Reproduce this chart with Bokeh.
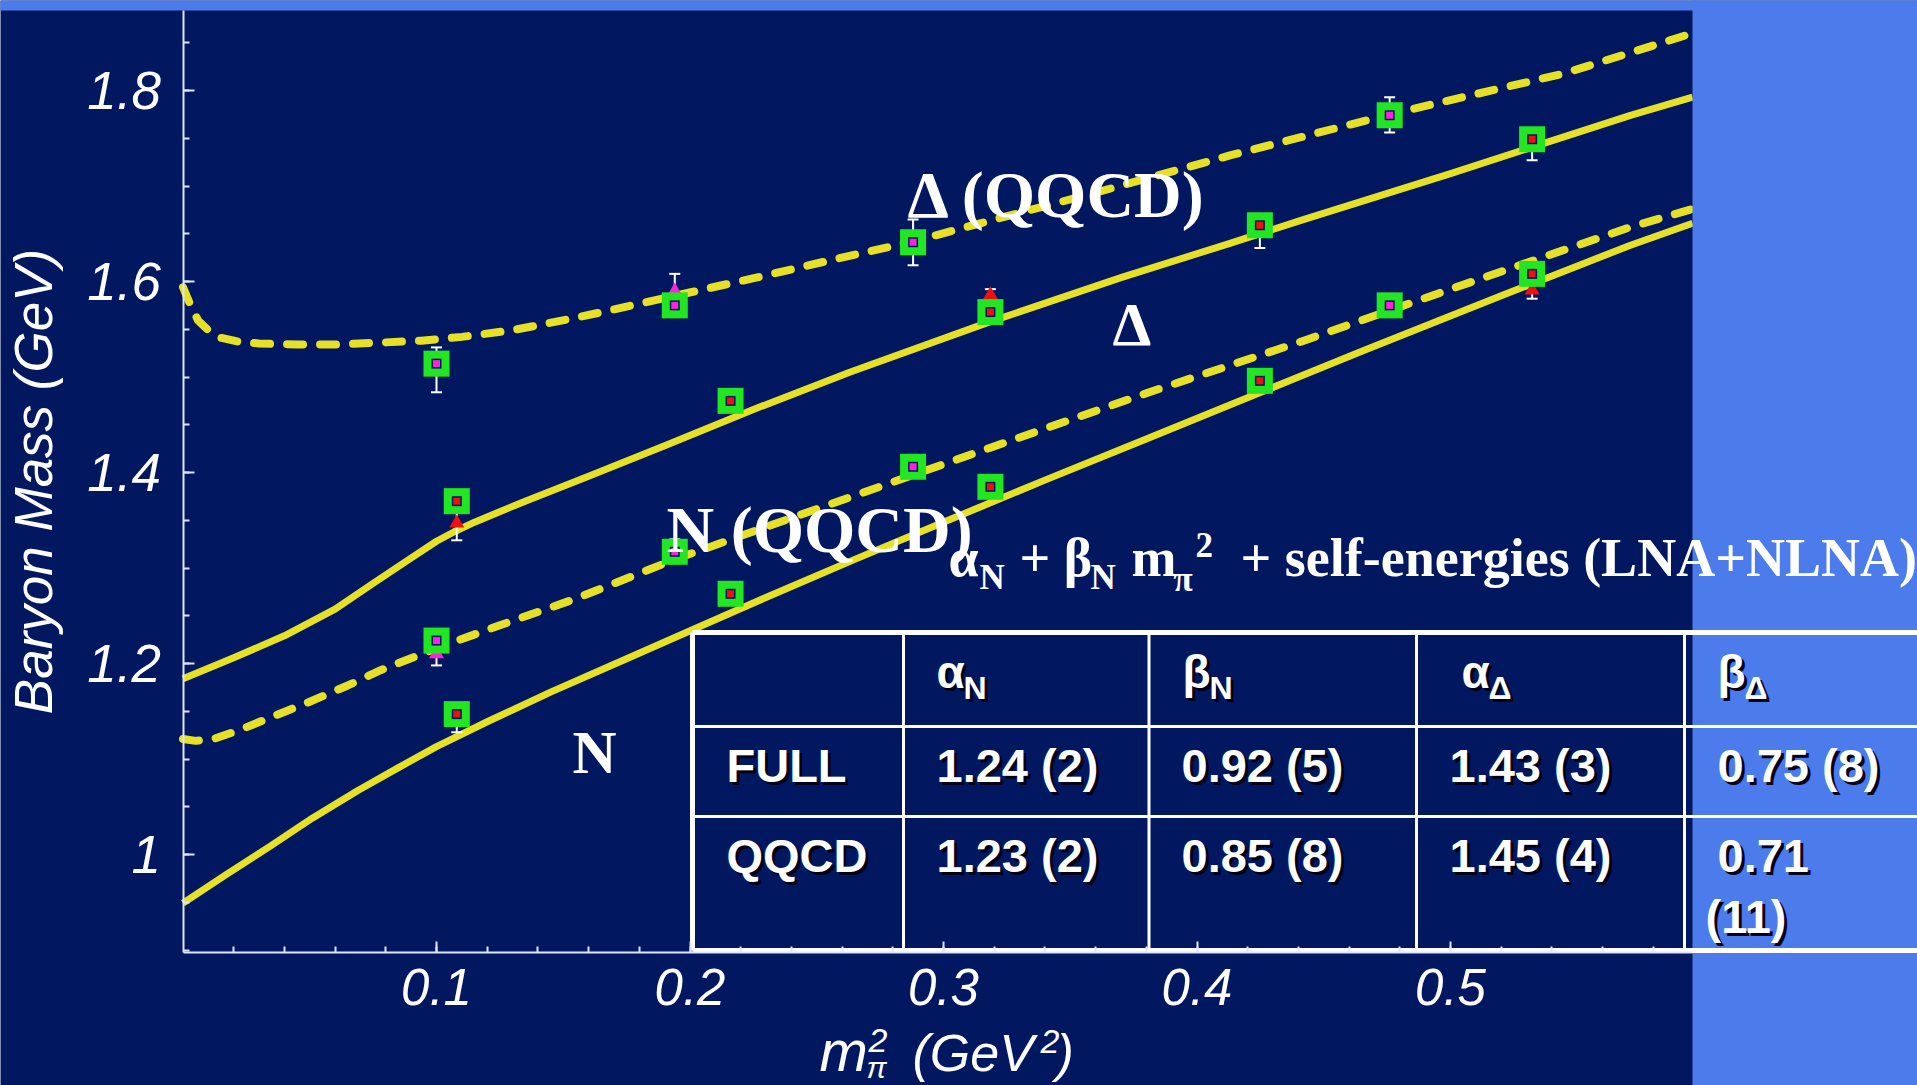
from bokeh.plotting import figure
from bokeh.models import Range1d, Label, FixedTicker
from bokeh.embed import file_html
from bokeh.resources import INLINE

# ---------------- colours ----------------
NAVY = "#011860"
LIGHT = "#4c7bec"
YELLOW = "#e6e026"
GREEN = "#22e622"
AXIS = "#dfe4ff"

# ---------------- data ----------------
# curves: m_pi^2 (GeV^2) -> mass (GeV)
dqq_x = [0.000, 0.003, 0.006, 0.010, 0.015, 0.022, 0.030, 0.045, 0.060, 0.078, 0.094, 0.110,
         0.130, 0.155, 0.194, 0.226, 0.255, 0.288, 0.316, 0.360, 0.413, 0.476, 0.545, 0.5955]
dqq_y = [1.594, 1.575, 1.559, 1.549, 1.541, 1.537, 1.535, 1.534, 1.534, 1.536, 1.538, 1.542,
         1.549, 1.562, 1.585, 1.604, 1.622, 1.642, 1.662, 1.693, 1.732, 1.775, 1.818, 1.860]

dfull_x = [0.000, 0.020, 0.040, 0.060, 0.075, 0.088, 0.100, 0.107, 0.115, 0.135, 0.160, 0.190,
           0.225, 0.263, 0.3185, 0.370, 0.413, 0.441, 0.500, 0.571, 0.5955]
dfull_y = [1.184, 1.206, 1.229, 1.257, 1.284, 1.307, 1.328, 1.338, 1.348, 1.370, 1.396, 1.428,
           1.466, 1.505, 1.558, 1.604, 1.640, 1.664, 1.713, 1.774, 1.793]

nqq_x = [0.000, 0.005, 0.012, 0.022, 0.034, 0.050, 0.065, 0.078, 0.100, 0.125, 0.154, 0.194,
         0.230, 0.263, 0.3185, 0.380, 0.441, 0.500, 0.571, 0.5955]
nqq_y = [1.121, 1.119, 1.121, 1.130, 1.143, 1.160, 1.177, 1.193, 1.216, 1.240, 1.267, 1.309,
         1.343, 1.374, 1.426, 1.483, 1.537, 1.592, 1.657, 1.676]

nfull_x = [0.000, 0.017, 0.034, 0.051, 0.069, 0.085, 0.100, 0.120, 0.145, 0.175, 0.205, 0.229,
           0.265, 0.3028, 0.340, 0.380, 0.441, 0.466, 0.520, 0.571, 0.5955]
nfull_y = [0.949, 0.979, 1.008, 1.038, 1.067, 1.091, 1.113, 1.139, 1.170, 1.205, 1.240, 1.268,
           1.309, 1.351, 1.392, 1.435, 1.501, 1.528, 1.585, 1.638, 1.661]

# lattice points
qq_x = [0.100, 0.194, 0.288, 0.476]
qqD_y = [1.514, 1.575, 1.641, 1.774]
qqD_lo = [1.484, 1.563, 1.617, 1.756]
qqD_hi = [1.531, 1.608, 1.665, 1.793]
qqD_tri = [1.514, 1.590, 1.641, 1.774]
qqN_y = [1.224, 1.317, 1.406, 1.575]
qqN_lo = [1.198, 1.305, 1.395, 1.563]
qqN_hi = [1.236, 1.330, 1.416, 1.587]
qqN_tri = [1.210, 1.317, 1.404, 1.575]

full_x = [0.108, 0.216, 0.3185, 0.4248, 0.5322]
fD_y = [1.370, 1.475, 1.568, 1.659, 1.749]
fD_lo = [1.329, 1.467, 1.556, 1.635, 1.727]
fD_hi = [1.378, 1.483, 1.592, 1.668, 1.758]
fD_tri = [1.347, 1.475, 1.586, 1.659, 1.747]
fN_y = [1.147, 1.273, 1.385, 1.496, 1.608]
fN_lo = [1.128, 1.265, 1.377, 1.488, 1.582]
fN_hi = [1.155, 1.281, 1.393, 1.504, 1.615]
fN_tri = [1.145, 1.273, 1.384, 1.496, 1.591]

# ticks
x_ticks = [0.1, 0.2, 0.3, 0.4, 0.5]
x_tick_labels = ["0.1", "0.2", "0.3", "0.4", "0.5"]
x_minor = [round(0.02 * i, 2) for i in range(1, 30)]
y_ticks = [1.0, 1.2, 1.4, 1.6, 1.8]
y_tick_labels = ["1", "1.2", "1.4", "1.6", "1.8"]
y_minor = [round(0.9 + 0.05 * i, 2) for i in range(0, 20)]

# table
col_heads = [("α", "N"), ("β", "N"), ("α", "Δ"), ("β", "Δ")]
row_names = ["FULL", "QQCD"]
full_vals = ["1.24 (2)", "0.92 (5)", "1.43 (3)", "0.75 (8)"]
qqcd_vals = ["1.23 (2)", "0.85 (8)", "1.45 (4)", "0.71"]
qqcd_last_extra = "(11)"

# ---------------- geometry helpers (page pixel -> data) ----------------
W, H = 1917, 1085
PXX = 2535.0
PXY = 955.0


def X(px):
    return (px - 182.5) / PXX


def Y(py):
    return 1.8 - (py - 90.0) / PXY


p = figure(width=W, height=H, output_backend="svg", toolbar_location=None,
           x_range=Range1d(X(0), X(W)), y_range=Range1d(Y(H), Y(0)),
           min_border_left=0, min_border_right=0, min_border_top=0, min_border_bottom=0)
p.background_fill_color = NAVY
p.border_fill_color = NAVY
p.outline_line_color = None
p.grid.visible = False

# axes (drawn inside the frame at fixed positions)
xa = p.xaxis[0]
ya = p.yaxis[0]
xa.fixed_location = Y(952)
ya.fixed_location = 0.0
xa.ticker = FixedTicker(ticks=x_ticks, minor_ticks=x_minor)
xa.major_label_overrides = {t: l for t, l in zip(x_ticks, x_tick_labels)}
xa.bounds = (0, X(1692))
ya.ticker = FixedTicker(ticks=y_ticks, minor_ticks=y_minor)
ya.major_label_overrides = {t: l for t, l in zip(y_ticks, y_tick_labels)}
ya.bounds = (Y(952), Y(10))
for ax in (xa, ya):
    ax.axis_line_color = AXIS
    ax.axis_line_width = 2
    ax.major_tick_line_color = AXIS
    ax.major_tick_line_width = 2
    ax.major_tick_in = 11
    ax.major_tick_out = 0
    ax.minor_tick_line_color = AXIS
    ax.minor_tick_line_width = 2
    ax.minor_tick_in = 6
    ax.minor_tick_out = 0
    ax.major_label_text_font = "Liberation Sans"
    ax.major_label_text_font_style = "italic"
    ax.major_label_text_color = "white"
xa.major_label_text_font_size = "51px"
xa.major_label_standoff = 16
ya.major_label_text_font_size = "53px"
ya.major_label_standoff = 22
ya.axis_label = "Baryon Mass (GeV)"
ya.axis_label_text_font = "Liberation Sans"
ya.axis_label_text_font_style = "italic"
ya.axis_label_text_font_size = "53px"
ya.axis_label_text_color = "white"
ya.axis_label_standoff = 22

# curves
p.line(dqq_x, dqq_y, line_color=YELLOW, line_width=8, line_dash="16 17", line_cap="round")
p.line(nqq_x, nqq_y, line_color=YELLOW, line_width=8, line_dash="16 17", line_cap="round")
p.line(dfull_x, dfull_y, line_color=YELLOW, line_width=7, line_join="round")
p.line(nfull_x, nfull_y, line_color=YELLOW, line_width=7, line_join="round")


# points
def points(xs, ys, lo, hi, tri, tri_color, center_color):
    p.segment(xs, lo, xs, hi, line_color="white", line_width=2)
    p.scatter(xs, lo, marker="dash", size=11, line_color="white", line_width=2)
    p.scatter(xs, hi, marker="dash", size=11, line_color="white", line_width=2)
    p.scatter(xs, tri, marker="triangle", size=15, fill_color=tri_color, line_color=None)
    p.scatter(xs, ys, marker="square", size=26, fill_color=GREEN, line_color=None)
    p.scatter(xs, ys, marker="square", size=10, fill_color=NAVY, line_color=None)
    p.scatter(xs, ys, marker="square", size=7, fill_color=center_color, line_color=None)


points(qq_x, qqD_y, qqD_lo, qqD_hi, qqD_tri, "#ff22dd", "#ff22dd")
points(qq_x, qqN_y, qqN_lo, qqN_hi, qqN_tri, "#ff22dd", "#ff22dd")
points(full_x, fD_y, fD_lo, fD_hi, fD_tri, "#ee1111", "#ee1111")
points(full_x, fN_y, fN_lo, fN_hi, fN_tri, "#ee1111", "#ee1111")

# light-blue slide background outside the picture
p.quad(left=X(1692), right=X(W + 20), bottom=Y(H + 20), top=Y(-20), fill_color=LIGHT, line_color=None)
p.quad(left=X(-20), right=X(W + 20), bottom=Y(10), top=Y(-20), fill_color=LIGHT, line_color=None)

# table lines
T_L, T_R = 692, W + 20
rows_y = [632, 726, 816, 950]
cols_x = [692, 903, 1148.5, 1416, 1684]
p.segment(X(T_L), Y(rows_y[0]), X(T_R), Y(rows_y[0]), line_color="white", line_width=5)
p.segment(X(T_L), Y(rows_y[3]), X(T_R), Y(rows_y[3]), line_color="white", line_width=5)
p.segment(X(T_L), Y(rows_y[1]), X(T_R), Y(rows_y[1]), line_color="white", line_width=3)
p.segment(X(T_L), Y(rows_y[2]), X(T_R), Y(rows_y[2]), line_color="white", line_width=3)
p.segment(X(cols_x[0]), Y(rows_y[0]), X(cols_x[0]), Y(rows_y[3]), line_color="white", line_width=5)
for cx in cols_x[1:]:
    p.segment(X(cx), Y(rows_y[0]), X(cx), Y(rows_y[3]), line_color="white", line_width=3)

BASE_SHIFT = 0.36  # measured rendering offset of the alphabetic baseline, in font sizes


def txt(px, py, s, size, font="Liberation Serif", style="bold", color="white", shadow=False):
    py = py - BASE_SHIFT * size
    if shadow:
        p.add_layout(Label(x=X(px + 3), y=Y(py + 3), text=s, text_font=font, text_font_style=style,
                           text_font_size=f"{size}px", text_color="#000018",
                           text_baseline="alphabetic", text_align="left"))
    p.add_layout(Label(x=X(px), y=Y(py), text=s, text_font=font, text_font_style=style,
                       text_font_size=f"{size}px", text_color=color,
                       text_baseline="alphabetic", text_align="left"))


# curve labels
txt(907, 218, "Δ (QQCD)", 66)
txt(1112, 346, "Δ", 62)
txt(666, 553, "N (QQCD)", 66)
txt(572, 774, "N", 61)

# formula
txt(948, 577, "α", 54)
txt(979, 590, "N", 35)
txt(1019, 577, "+ β", 54)
txt(1090, 590, "N", 35)
txt(1131, 577, "m", 54)
txt(1173, 592, "π", 35)
txt(1195, 557, "2", 35)
txt(1240, 577, "+ self-energies (LNA+NLNA)", 54)

# table texts
SANS = "Liberation Sans"
head_x = [936, 1182, 1461, 1717]
for hx, (g, sub) in zip(head_x, col_heads):
    txt(hx, 688, g, 46, SANS, "bold", shadow=True)
    txt(hx + 27, 699, sub, 32, SANS, "bold", shadow=True)
txt(726, 782, row_names[0], 47, SANS, "bold", shadow=True)
txt(726, 872, row_names[1], 47, SANS, "bold", shadow=True)
val_x = [936, 1181, 1449, 1717]
for vx, v in zip(val_x, full_vals):
    txt(vx, 782, v, 47, SANS, "bold", shadow=True)
for vx, v in zip(val_x, qqcd_vals):
    txt(vx, 872, v, 47, SANS, "bold", shadow=True)
txt(1705, 933, qqcd_last_extra, 47, SANS, "bold", shadow=True)

# x-axis title  m_pi^2 (GeV^2)
txt(819, 1071, "m", 58, SANS, "italic")
txt(868, 1052, "2", 34, SANS, "italic")
txt(866, 1078, "π", 30, SANS, "italic")
txt(912, 1071, "(GeV", 52, SANS, "italic")
txt(1040, 1053, "2", 34, SANS, "italic")
txt(1056, 1071, ")", 52, SANS, "italic")

open("out.html", "w").write(file_html(p, INLINE))
